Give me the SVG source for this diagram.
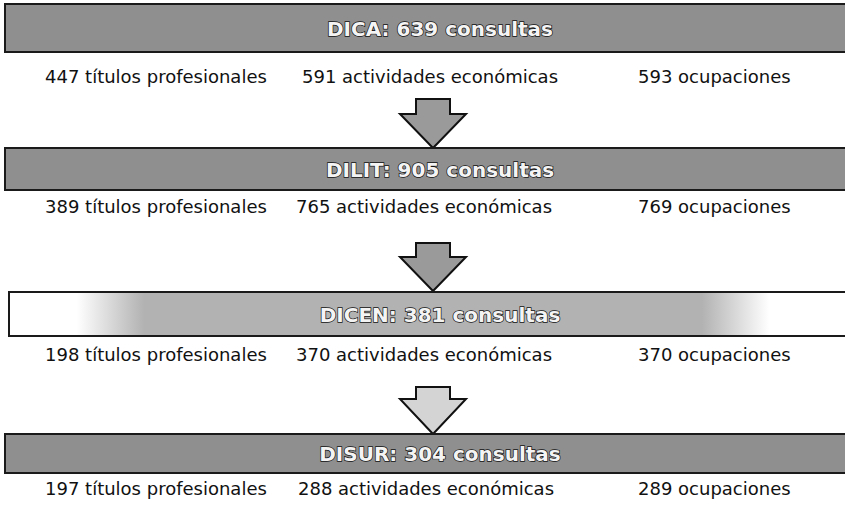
<svg xmlns="http://www.w3.org/2000/svg" width="845" height="522" viewBox="0 0 845 522">
<style>
.bar{fill:#8f8f8f;stroke:#1a1a1a;stroke-width:2}
.bar3{fill:url(#g3);stroke:#1a1a1a;stroke-width:2}
.title{font-family:"DejaVu Sans","Liberation Sans",sans-serif;font-weight:bold;font-size:20px;fill:#f4f4f4;stroke:#111;stroke-width:1.4;paint-order:stroke;text-anchor:middle}
.item{font-family:"DejaVu Sans","Liberation Sans",sans-serif;font-size:18px;fill:#111}
.arrow{fill:#9a9a9a;stroke:#111;stroke-width:2}
.arrow3{fill:#d4d4d4;stroke:#111;stroke-width:2}
</style>
<defs>
<linearGradient id="g3" x1="0" x2="1" y1="0" y2="0">
<stop offset="0" stop-color="#ffffff"/>
<stop offset="0.08" stop-color="#ffffff"/>
<stop offset="0.16" stop-color="#b2b2b2"/>
<stop offset="0.82" stop-color="#b2b2b2"/>
<stop offset="0.9" stop-color="#ffffff"/>
<stop offset="1" stop-color="#ffffff"/>
</linearGradient>
</defs>
<g id="connectors">
<path class="arrow" d="M416,99 L450,99 L450,114 L466,114 L433,148 L400,114 L416,114 Z"/>
<path class="arrow" d="M416,243 L450,243 L450,257 L466,257 L433,291 L400,257 L416,257 Z"/>
<path class="arrow3" d="M416,387 L450,387 L450,399 L466,399 L433,434 L400,399 L416,399 Z"/>
</g>
<g id="dica">
<rect class="bar" x="5" y="4" width="845" height="48"/>
<text class="title" x="440" y="36">DICA: 639 consultas</text>
<text class="item" x="45" y="83">447 títulos profesionales</text>
<text class="item" x="302" y="83">591 actividades económicas</text>
<text class="item" x="638" y="83">593 ocupaciones</text>
</g>
<g id="dilit">
<rect class="bar" x="5" y="148" width="845" height="42"/>
<text class="title" x="440" y="177">DILIT: 905 consultas</text>
<text class="item" x="45" y="213">389 títulos profesionales</text>
<text class="item" x="296" y="213">765 actividades económicas</text>
<text class="item" x="638" y="213">769 ocupaciones</text>
</g>
<g id="dicen">
<rect class="bar3" x="9" y="292" width="845" height="44"/>
<text class="title" x="440" y="322">DICEN: 381 consultas</text>
<text class="item" x="45" y="361">198 títulos profesionales</text>
<text class="item" x="296" y="361">370 actividades económicas</text>
<text class="item" x="638" y="361">370 ocupaciones</text>
</g>
<g id="disur">
<rect class="bar" x="5" y="434" width="845" height="39"/>
<text class="title" x="440" y="461">DISUR: 304 consultas</text>
<text class="item" x="45" y="495">197 títulos profesionales</text>
<text class="item" x="298" y="495">288 actividades económicas</text>
<text class="item" x="638" y="495">289 ocupaciones</text>
</g>
</svg>
